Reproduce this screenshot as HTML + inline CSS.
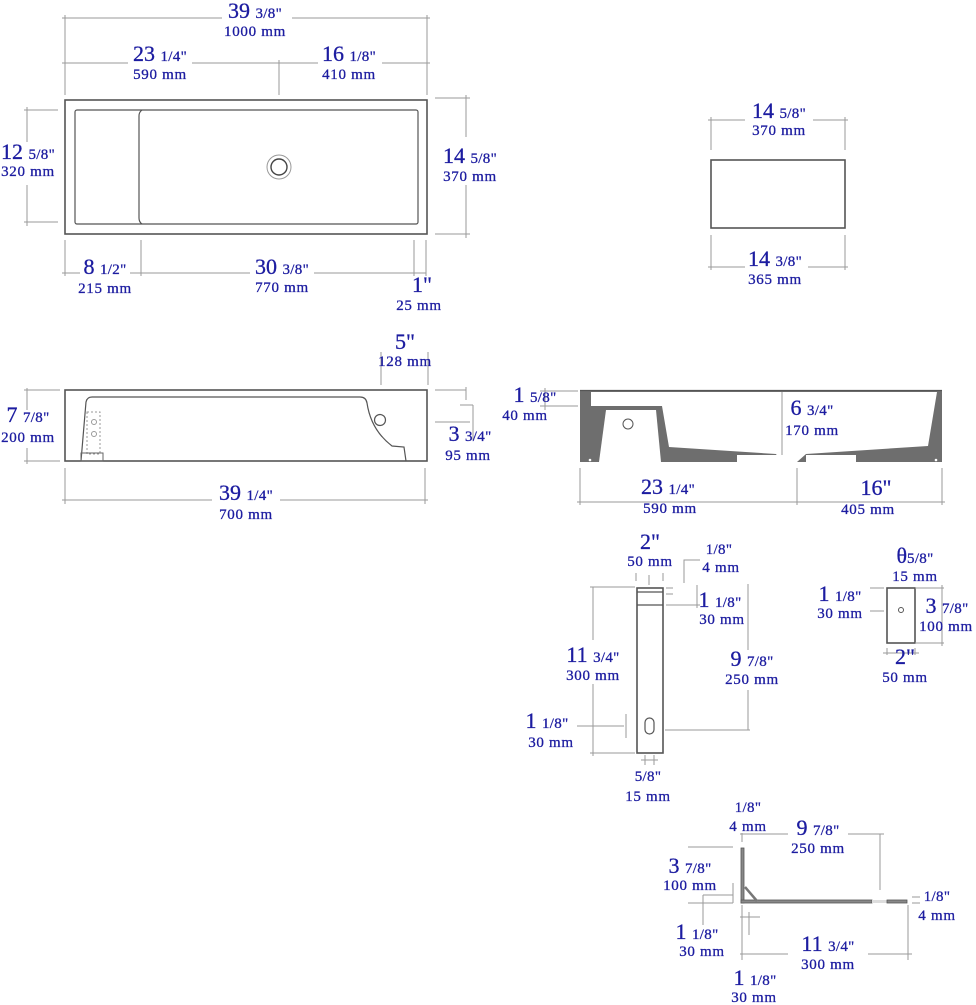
<!DOCTYPE html>
<html><head><meta charset="utf-8"><style>
html,body{margin:0;padding:0;background:#fff}
svg{display:block}
text{font-family:"Liberation Serif",serif;fill:#1c1ca0;text-anchor:middle;stroke:#1c1ca0;stroke-width:0.3}
.b{font-size:22px}
.f{font-size:15px;letter-spacing:0.3px}
.m{font-size:15px;letter-spacing:0.7px}
.d{stroke:#9a9a9a;stroke-width:1;fill:none}
.o{stroke:#555;stroke-width:1.6;fill:none}
</style></head><body>
<svg width="976" height="1005" viewBox="0 0 976 1005" xmlns="http://www.w3.org/2000/svg">
<!-- TOP VIEW -->
<rect x="65" y="100" width="362" height="134" class="o"/>
<rect x="75" y="110" width="343" height="114" rx="2" class="o" style="stroke-width:1.2"/>
<path d="M142 110 Q139 112 139 116 L139 218 Q139 222 142 224" class="o" style="stroke-width:1.2"/>
<circle cx="279" cy="167" r="12" fill="none" stroke="#999" stroke-width="1"/>
<circle cx="279" cy="167" r="8" fill="none" stroke="#444" stroke-width="1.4"/>
<path class="d" d="M65 15V95M427 15V95M62 18H222M292 18H430M62 63H128M192 63H318M382 63H430M279 60V95M24 110H58M24 222H58M27 107V142M27 185V226M435 98H470M435 234H470M466 95V137M466 185V238M65 240V276M141 240V276M414 240V276M426 240V276M62 273H80M130 273H250M314 273H426"/>
<text x="255" y="18" class="b">39 <tspan class="f">3/8"</tspan></text>
<text x="255" y="36" class="m">1000 mm</text>
<text x="160" y="61" class="b">23 <tspan class="f">1/4"</tspan></text>
<text x="160" y="79" class="m">590 mm</text>
<text x="349" y="61" class="b">16 <tspan class="f">1/8"</tspan></text>
<text x="349" y="79" class="m">410 mm</text>
<text x="28" y="159" class="b">12 <tspan class="f">5/8"</tspan></text>
<text x="28" y="176" class="m">320 mm</text>
<text x="470" y="163" class="b">14 <tspan class="f">5/8"</tspan></text>
<text x="470" y="181" class="m">370 mm</text>
<text x="105" y="274" class="b">8 <tspan class="f">1/2"</tspan></text>
<text x="105" y="293" class="m">215 mm</text>
<text x="282" y="274" class="b">30 <tspan class="f">3/8"</tspan></text>
<text x="282" y="292" class="m">770 mm</text>
<text x="422" y="292" class="b">1"</text>
<text x="419" y="310" class="m">25 mm</text>

<!-- SMALL TOP RIGHT -->
<rect x="711" y="160" width="134" height="68" class="o"/>
<path class="d" d="M711 117V150M845 117V150M708 120H745M813 120H848M711 235V270M845 235V270M708 267H745M808 267H848"/>
<text x="779" y="118" class="b">14 <tspan class="f">5/8"</tspan></text>
<text x="779" y="135" class="m">370 mm</text>
<text x="775" y="266" class="b">14 <tspan class="f">3/8"</tspan></text>
<text x="775" y="284" class="m">365 mm</text>

<!-- SIDE VIEW -->
<rect x="65" y="390" width="362" height="71" class="o"/>
<path d="M81 461 L86 402 Q87 397 92 397 L360 397 Q366 397 367 403 Q371 430 392 446 L404 447 L406 461" class="o" style="stroke-width:1.2"/>
<circle cx="380" cy="420" r="5.5" fill="none" stroke="#555" stroke-width="1.2"/>
<rect x="87" y="412" width="13" height="42" fill="none" stroke="#999" stroke-dasharray="2,2"/>
<circle cx="94" cy="422" r="2.5" fill="none" stroke="#999"/><circle cx="94" cy="434" r="2.5" fill="none" stroke="#999"/>
<rect x="81" y="453" width="22" height="8" fill="none" stroke="#666"/>
<path class="d" d="M381 352V385M428 352V385M24 390H60M24 461H60M27 388V410M27 448V464M435 390H466M435 422H470M466 387V400M460 405H473M473 405V440M65 468V504M425 468V504M62 500H212M280 500H428"/>
<text x="405" y="349" class="b">5"</text>
<text x="405" y="366" class="m">128 mm</text>
<text x="28" y="422" class="b">7 <tspan class="f">7/8"</tspan></text>
<text x="28" y="442" class="m">200 mm</text>
<text x="470" y="441" class="b">3 <tspan class="f">3/4"</tspan></text>
<text x="468" y="460" class="m">95 mm</text>
<text x="246" y="500" class="b">39 <tspan class="f">1/4"</tspan></text>
<text x="246" y="519" class="m">700 mm</text>

<!-- SECTION VIEW -->
<rect x="580" y="390" width="362" height="72" fill="#6e6e6e"/>
<polygon points="591,392 937,392 928,446 806,454 797,462 781,462 776,454 669,447 662,406 591,406" fill="#fff"/>
<polygon points="606,410 656,410 661,462 599,462" fill="#fff"/>
<rect x="737" y="455" width="47" height="7" fill="#fff"/>
<rect x="806" y="455" width="50" height="7" fill="#fff"/>
<line x1="580" y1="390.5" x2="942" y2="390.5" stroke="#555" stroke-width="1.2"/>
<line x1="782" y1="392" x2="782" y2="455" stroke="#999"/>
<circle cx="628" cy="424" r="5" fill="#fff" stroke="#555"/>
<circle cx="590" cy="460" r="1.3" fill="#fff"/><circle cx="936" cy="460" r="1.3" fill="#fff"/>
<path class="d" d="M540 391H578M540 406H578M545 388V410M580 468V505M797 468V505M942 468V505M577 502H945"/>
<text x="535" y="402" class="b">1 <tspan class="f">5/8"</tspan></text>
<text x="525" y="420" class="m">40 mm</text>
<text x="812" y="415" class="b">6 <tspan class="f">3/4"</tspan></text>
<text x="812" y="435" class="m">170 mm</text>
<text x="668" y="494" class="b">23 <tspan class="f">1/4"</tspan></text>
<text x="670" y="513" class="m">590 mm</text>
<text x="876" y="495" class="b">16"</text>
<text x="868" y="514" class="m">405 mm</text>

<!-- BRACKET -->
<rect x="637" y="588" width="26" height="165" class="o"/>
<line x1="637" y1="592" x2="663" y2="592" stroke="#555" stroke-width="1.2"/>
<line x1="637" y1="605" x2="663" y2="605" stroke="#555" stroke-width="1.2"/>
<rect x="645" y="718" width="9" height="16" rx="4.5" fill="none" stroke="#555" stroke-width="1.2"/>
<path class="d" d="M636 573V581M663 573V581M649 575V585M684 583V560H700M666 588H673M666 594H673M697 585V608M666 605H700M593 587V640M593 684V756M590 587H635M590 753H635M748 584V650M748 690V730M665 730H750M626 714V738M577 726H624M645 755V765M654 755V765M641 760H658"/>
<text x="650" y="549" class="b">2"</text>
<text x="650" y="566" class="m">50 mm</text>
<text x="719" y="554" class="f">1/8"</text>
<text x="721" y="572" class="m">4 mm</text>
<text x="720" y="607" class="b">1 <tspan class="f">1/8"</tspan></text>
<text x="722" y="624" class="m">30 mm</text>
<text x="593" y="662" class="b">11 <tspan class="f">3/4"</tspan></text>
<text x="593" y="680" class="m">300 mm</text>
<text x="752" y="666" class="b">9 <tspan class="f">7/8"</tspan></text>
<text x="752" y="684" class="m">250 mm</text>
<text x="547" y="728" class="b">1 <tspan class="f">1/8"</tspan></text>
<text x="551" y="747" class="m">30 mm</text>
<text x="648" y="781" class="f">5/8"</text>
<text x="648" y="801" class="m">15 mm</text>

<!-- PLATE -->
<rect x="887" y="588" width="28" height="55" class="o"/>
<circle cx="901" cy="610" r="2.5" fill="none" stroke="#555"/>
<path class="d" d="M870 588H884M870 611H884M915 588H944M915 643H944M942 585V646M887 648V655M915 648V655M883 653H919"/>
<text x="915" y="563" class="b">θ<tspan class="f">5/8"</tspan></text>
<text x="915" y="581" class="m">15 mm</text>
<text x="840" y="601" class="b">1 <tspan class="f">1/8"</tspan></text>
<text x="840" y="618" class="m">30 mm</text>
<text x="947" y="613" class="b">3 <tspan class="f">7/8"</tspan></text>
<text x="946" y="631" class="m">100 mm</text>
<text x="905" y="664" class="b">2"</text>
<text x="905" y="682" class="m">50 mm</text>

<!-- L BRACKET -->
<rect x="741" y="848" width="3" height="55" fill="#888" stroke="#555" stroke-width="0.8"/>
<rect x="741" y="900" width="131" height="3" fill="#888" stroke="#555" stroke-width="0.8"/>
<rect x="872" y="900" width="15" height="3" fill="#ddd"/>
<rect x="887" y="900" width="20" height="3" fill="#888" stroke="#555" stroke-width="0.8"/>
<line x1="745" y1="887" x2="757" y2="901" stroke="#777" stroke-width="2.5"/>
<path class="d" d="M740 834H788M848 834H884M880 834V890M742 833V842M688 847H733M688 903H733M733 883V903M703 895V925M703 895H733M742 905V960M908 905V960M740 954H788M868 954H912M740 917H760M749 912V935M912 897H920M912 903H920"/>
<text x="748" y="812" class="f">1/8"</text>
<text x="748" y="831" class="m">4 mm</text>
<text x="818" y="835" class="b">9 <tspan class="f">7/8"</tspan></text>
<text x="818" y="853" class="m">250 mm</text>
<text x="690" y="873" class="b">3 <tspan class="f">7/8"</tspan></text>
<text x="690" y="890" class="m">100 mm</text>
<text x="697" y="939" class="b">1 <tspan class="f">1/8"</tspan></text>
<text x="702" y="956" class="m">30 mm</text>
<text x="828" y="951" class="b">11 <tspan class="f">3/4"</tspan></text>
<text x="828" y="969" class="m">300 mm</text>
<text x="755" y="985" class="b">1 <tspan class="f">1/8"</tspan></text>
<text x="754" y="1002" class="m">30 mm</text>
<text x="937" y="901" class="f">1/8"</text>
<text x="937" y="920" class="m">4 mm</text>
</svg>
</body></html>
